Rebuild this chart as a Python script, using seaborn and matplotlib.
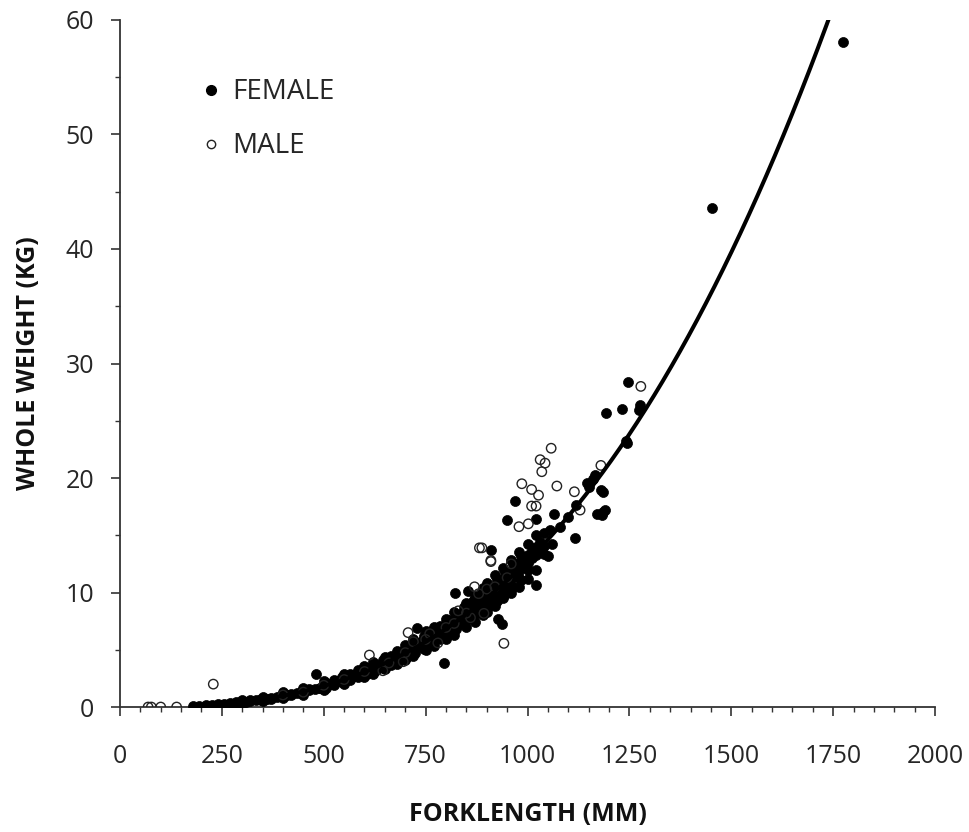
import matplotlib
matplotlib.use("Agg")
import matplotlib.pyplot as plt
import seaborn as sns
import numpy as np
import pandas as pd
from matplotlib.ticker import MultipleLocator
from matplotlib.lines import Line2D

# ---- data ----
female_fl = [180, 195, 210, 210, 225, 240, 255, 255, 270, 285, 285, 300, 300, 310, 320, 320,
             335, 345, 345, 360, 370, 370, 385, 395, 395, 410, 420, 420, 435, 445, 445, 455,
             465, 465, 478, 480, 490, 490, 500, 510, 510, 520, 530, 530, 540, 550, 550, 560,
             570, 570, 580, 590, 590, 600, 600, 610, 620, 620, 630, 630, 640, 650, 650, 650,
             660, 670, 670, 670, 680, 690, 690, 690, 700, 700, 710, 710, 720, 720, 720, 728,
             730, 730, 740, 740, 740, 750, 750, 750, 760, 760, 770, 770, 770, 780, 780, 790,
             790, 790, 794, 800, 800, 800, 810, 810, 820, 820, 820, 822, 830, 830, 830, 840,
             840, 850, 850, 850, 853, 860, 860, 860, 870, 870, 870, 880, 880, 890, 890, 890,
             900, 900, 900, 910, 910, 910, 920, 920, 920, 928, 937, 930, 930, 940, 940, 940,
             950, 950, 950, 960, 960, 960, 970, 970, 970, 980, 980, 980, 990, 990, 1000, 1000,
             1000, 1010, 1010, 1020, 1020, 1020, 1020, 1030, 1030, 1040, 1040, 1040, 1050, 1055,
             1060, 1066, 1080, 1100, 1117, 1120, 1145, 1150, 1160, 1166, 1170, 1180, 1182, 1185,
             1186, 1190, 1193, 1231, 1242, 1243, 1246, 1274, 1276, 1453, 1775]
female_wt = [0.10, 0.13, 0.17, 0.12, 0.20, 0.24, 0.28, 0.22, 0.33, 0.38, 0.45, 0.43, 0.50, 0.48, 0.52, 0.60,
             0.58, 0.63, 0.72, 0.71, 0.78, 0.68, 0.85, 0.92, 1.00, 1.02, 1.10, 1.05, 1.20, 1.30, 1.22, 1.40,
             1.45, 1.55, 1.58, 2.90, 1.70, 1.62, 1.85, 1.92, 2.05, 2.00, 2.15, 2.25, 2.30, 2.35, 2.50, 2.55,
             2.65, 2.80, 2.78, 2.95, 2.85, 3.05, 3.20, 3.15, 3.30, 3.45, 3.50, 3.35, 3.65, 3.80, 3.95, 3.60,
             4.00, 4.10, 4.30, 3.90, 4.35, 4.50, 4.70, 4.30, 4.60, 4.90, 5.00, 4.80, 5.20, 5.00, 5.45, 6.87,
             5.35, 5.60, 5.55, 5.80, 5.30, 5.70, 6.00, 5.45, 5.90, 6.20, 6.10, 6.40, 5.85, 6.30, 6.60, 6.55,
             6.85, 6.20, 3.87, 6.80, 7.10, 6.50, 7.00, 7.40, 7.25, 7.60, 6.90, 10.0, 7.50, 7.90, 7.15, 7.80,
             8.20, 8.00, 8.40, 7.60, 10.1, 8.30, 8.70, 7.90, 8.55, 9.00, 8.20, 8.85, 9.30, 9.10, 9.60, 8.70,
             9.40, 9.90, 9.00, 9.70, 10.2, 13.7, 10.0, 10.6, 9.50, 7.70, 7.25, 10.3, 10.9, 10.6, 11.2, 10.0,
             10.9, 11.5, 16.3, 11.2, 11.8, 10.6, 11.6, 12.2, 18.0, 11.9, 12.6, 11.3, 12.3, 13.0, 12.6, 13.3,
             12.0, 13.0, 13.6, 13.3, 14.0, 10.7, 16.4, 13.7, 14.4, 14.1, 13.4, 15.2, 13.2, 15.5,
             14.2, 16.9, 15.75, 16.6, 14.8, 17.6, 19.6, 19.2, 19.9, 20.3, 16.9, 18.95, 16.8, 18.8,
             17.05, 17.2, 25.65, 26.0, 23.2, 23.1, 28.4, 25.9, 26.4, 43.6, 58.1]

# band edges of the dense female cloud
female_edge_fl = [300, 300, 350, 350, 400, 400, 450, 450, 500, 500, 550, 550, 600, 600, 620, 620,
                  650, 650, 680, 680, 700, 700, 720, 720, 750, 750, 770, 770, 800, 800, 820, 820,
                  850, 850, 870, 870, 890, 890, 900, 900, 920, 920, 940, 940, 960, 960, 980, 980,
                  1000, 1000, 1020, 1020]
female_edge_wt = [0.30, 0.65, 0.50, 0.90, 0.75, 1.30, 1.05, 1.70, 1.50, 2.25, 2.00, 2.85, 2.60, 3.55, 2.90, 3.90,
                  3.30, 4.40, 3.80, 4.90, 4.10, 5.40, 4.50, 5.90, 5.00, 6.60, 5.30, 7.00, 5.90, 7.70, 6.30, 8.30,
                  7.00, 9.10, 7.40, 9.70, 8.00, 10.4, 8.30, 10.8, 8.80, 11.5, 9.50, 12.1, 10.0, 12.8, 10.5, 13.5,
                  11.2, 14.2, 12.0, 15.0]

# filler points inside the dense band
female_mid_fl = [505, 505, 525, 525, 545, 545, 565, 565, 585, 585, 605, 605, 625, 625, 645, 645,
                 665, 665, 685, 685, 705, 705, 725, 725, 745, 745, 765, 765, 785, 785, 805, 805,
                 825, 825, 845, 845, 865, 865, 885, 885, 905, 905, 925, 925, 945, 945, 965, 965,
                 985, 985]
female_mid_wt = [1.70, 2.10, 1.90, 2.35, 2.15, 2.60, 2.35, 2.90, 2.60, 3.20, 2.85, 3.45, 3.15, 3.75, 3.40, 4.10,
                 3.70, 4.45, 4.00, 4.80, 4.35, 5.20, 4.75, 5.65, 5.10, 6.20, 5.50, 6.60, 5.90, 7.10, 6.30, 7.60,
                 6.80, 8.10, 7.25, 8.70, 7.70, 9.30, 8.20, 9.90, 8.80, 10.5, 9.30, 11.1, 9.90, 11.8, 10.5, 12.5,
                 11.1, 13.2]

male_fl = [69, 77, 100, 139, 229, 400, 450, 500, 550, 600, 612, 645, 660, 695, 700, 707,
           720, 750, 760, 780, 800, 820, 830, 850, 860, 870, 880, 882, 888, 893, 900, 910, 910,
           920, 942, 950, 960, 979, 986, 1002, 1010, 1010, 1021,
           1027, 1031, 1035, 1043, 1058, 1072, 1115, 1129, 1180, 1278]
male_wt = [0.0, 0.0, 0.0, 0.0, 2.0, 1.05, 1.30, 1.90, 2.40, 3.10, 4.54, 3.17, 3.85, 3.96, 4.75, 6.5,
           5.7, 5.9, 6.4, 5.6, 6.95, 7.3, 8.4, 8.2, 7.8, 10.5, 9.9, 13.9, 13.9, 8.18, 10.3, 12.7, 12.8,
           10.5, 5.56, 11.3, 12.5, 15.75, 19.5, 16.0, 19.0, 17.55, 17.55,
           18.5, 21.6, 20.55, 21.3, 22.6, 19.3, 18.8, 17.2, 21.1, 28.0]

# power-law trend line W = a * FL^b (parameters)
curve_a = 5.08e-8
curve_b = 2.8
curve_fl_range = [180, 1760]

x_ticks = [0, 250, 500, 750, 1000, 1250, 1500, 1750, 2000]
y_ticks = [0, 10, 20, 30, 40, 50, 60]

# ---- plotting ----
sns.set_theme(style="white")
plt.rcParams["font.family"] = ["Open Sans", "DejaVu Sans"]

fig = plt.figure(figsize=(9.69, 8.32), dpi=100)
ax = fig.add_axes([0.1238, 0.1502, 0.965 - 0.1238, 0.976 - 0.1502])

df_f = pd.DataFrame({"fl": female_fl + female_edge_fl + female_mid_fl,
                     "wt": female_wt + female_edge_wt + female_mid_wt})
df_m = pd.DataFrame({"fl": male_fl, "wt": male_wt})

sns.scatterplot(data=df_f, x="fl", y="wt", ax=ax, s=52, color="black",
                edgecolor="black", linewidth=0.5, zorder=3, legend=False)
sns.scatterplot(data=df_m, x="fl", y="wt", ax=ax, s=46, facecolor="none",
                edgecolor="#222222", linewidth=1.0, zorder=4, legend=False)

cx = np.linspace(curve_fl_range[0], curve_fl_range[1], 300)
cy = curve_a * cx ** curve_b
sns.lineplot(x=cx, y=cy, ax=ax, color="black", linewidth=2.9, zorder=5,
             estimator=None, sort=False)

ax.set_xlim(0, 2000)
ax.set_ylim(0, 60)
ax.set_xticks(x_ticks)
ax.set_yticks(y_ticks)
ax.xaxis.set_minor_locator(MultipleLocator(50))
ax.yaxis.set_minor_locator(MultipleLocator(5))

for side in ["top", "right"]:
    ax.spines[side].set_visible(False)
for side in ["left", "bottom"]:
    ax.spines[side].set_color("#333333")
    ax.spines[side].set_linewidth(1.3)

ax.tick_params(axis="both", which="major", direction="out", length=6.5, width=1.2,
               color="#333333", labelsize=18, labelcolor="#262626", pad=12,
               bottom=True, left=True)
ax.tick_params(axis="x", which="major", pad=20)
ax.tick_params(axis="both", which="minor", direction="out", length=3.8, width=1.0,
               color="#333333", bottom=True, left=True)

ax.set_xlabel("FORKLENGTH (MM)", fontsize=18, fontweight="bold", labelpad=24, color="#111111")
ax.set_ylabel("WHOLE WEIGHT (KG)", fontsize=18, fontweight="bold", labelpad=18, color="#111111")

handles = [
    Line2D([], [], marker="o", linestyle="none", markersize=7, markerfacecolor="black",
           markeredgecolor="black", label="FEMALE"),
    Line2D([], [], marker="o", linestyle="none", markersize=6, markerfacecolor="none",
           markeredgecolor="#222222", markeredgewidth=1.0, label="MALE"),
]
ax.legend(handles=handles, loc="upper left", bbox_to_anchor=(0.085, 0.931), frameon=False,
          fontsize=20, handletextpad=0.35, labelspacing=0.93, handlelength=0.8,
          borderaxespad=0)

ax.grid(False)
fig.savefig("out.png", dpi=100, facecolor="white")
